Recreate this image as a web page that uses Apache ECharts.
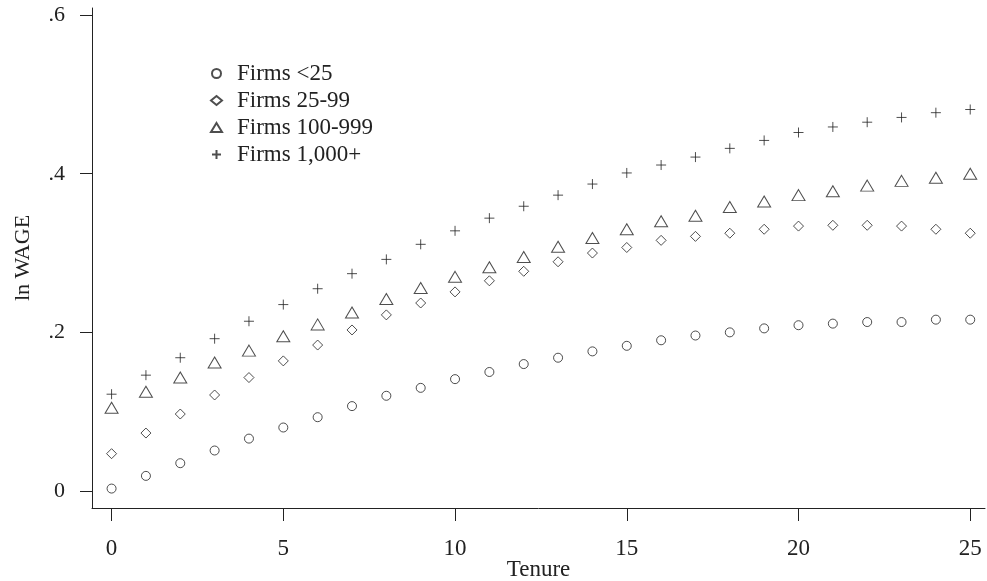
<!DOCTYPE html>
<html>
<head>
<meta charset="utf-8">
<script src="https://cdn.jsdelivr.net/npm/echarts@6/dist/echarts.min.js"></script>
<style>
html,body{margin:0;padding:0;background:#fff;overflow:hidden;}
#chart{width:987px;height:581px;}
</style>
</head>
<body>
<div id="chart"></div>
<script>
const tenure = [0,1,2,3,4,5,6,7,8,9,10,11,12,13,14,15,16,17,18,19,20,21,22,23,24,25];
const firmsLt25 = [0.003,0.019,0.035,0.051,0.066,0.080,0.093,0.107,0.120,0.130,0.141,0.150,0.160,0.168,0.176,0.183,0.190,0.196,0.200,0.205,0.209,0.211,0.213,0.213,0.216,0.216];
const firms25to99 = [0.047,0.073,0.097,0.121,0.143,0.164,0.184,0.203,0.222,0.237,0.251,0.265,0.277,0.289,0.300,0.307,0.316,0.321,0.325,0.330,0.334,0.335,0.335,0.334,0.330,0.325];
const firms100to999 = [0.105,0.125,0.143,0.162,0.177,0.195,0.210,0.225,0.242,0.256,0.270,0.282,0.295,0.308,0.319,0.330,0.340,0.347,0.358,0.365,0.373,0.378,0.385,0.391,0.395,0.400];
const firms1000plus = [0.122,0.146,0.168,0.192,0.214,0.235,0.255,0.274,0.292,0.311,0.328,0.344,0.359,0.373,0.387,0.401,0.411,0.421,0.432,0.442,0.452,0.459,0.465,0.471,0.477,0.481];
const seriesNames = ['Firms <25','Firms 25-99','Firms 100-999','Firms 1,000+'];
const xTicks = [0,5,10,15,20,25];
const yTicks = [0,0.2,0.4,0.6];

const ink = '#222';
const plusPath = 'path://M0,5L10,5M5,0L5,10';

function pairs(ys){ return tenure.map((t,i)=>[t,ys[i]]); }

const chart = echarts.init(document.getElementById('chart'), null, {renderer:'canvas'});
const font = '"Liberation Serif","Times New Roman",serif';

function mk(name, data, symbol, size){
  return {
    name, type:'scatter', data: pairs(data), symbol, symbolSize:size, symbolKeepAspect:true,
    itemStyle:{color:'rgba(0,0,0,0)', borderColor:ink, borderWidth:1},
    emphasis:{disabled:true}, silent:true, animation:false
  };
}

chart.setOption({
  animation:false,
  backgroundColor:'#fff',
  textStyle:{fontFamily:font, color:ink},
  grid:{left:92, right:2, top:8, bottom:73, containLabel:false, outerBoundsMode:'none'},
  legend:{
    orient:'vertical', left:205, top:57, itemWidth:11, itemHeight:9, itemGap:4,
    textStyle:{fontFamily:font, fontSize:23, color:ink, padding:[0,0,0,10]},
    selectedMode:false,
    data: seriesNames
  },
  xAxis:{
    type:'value', min:-0.57, max:25.43,
    name:'Tenure', nameLocation:'middle', nameGap:50, nameMoveOverlap:false,
    nameTextStyle:{fontFamily:font, fontSize:23, color:ink},
    axisLine:{show:true, onZero:false, lineStyle:{color:ink, width:1}},
    axisTick:{show:true, length:13, customValues:xTicks, lineStyle:{color:ink}},
    axisLabel:{fontFamily:font, fontSize:23, color:ink, margin:29, customValues:xTicks},
    splitLine:{show:false}
  },
  yAxis:{
    type:'value', min:-0.0215, max:0.609,
    name:'ln WAGE', nameLocation:'middle', nameGap:58, nameRotate:90, nameMoveOverlap:false,
    nameTextStyle:{fontFamily:font, fontSize:22, color:ink},
    axisLine:{show:true, onZero:false, lineStyle:{color:ink, width:1}},
    axisTick:{show:true, length:12, customValues:yTicks, lineStyle:{color:ink}},
    axisLabel:{fontFamily:font, fontSize:22, color:ink, margin:27, customValues:yTicks,
      formatter:function(v){ if (Math.abs(v) < 1e-9) return '0'; return ('' + Math.round(v*10)/10).replace(/^0/, ''); }},
    splitLine:{show:false}
  },
  series:[
    mk(seriesNames[0], firmsLt25, 'circle', 9),
    mk(seriesNames[1], firms25to99, 'diamond', 10),
    mk(seriesNames[2], firms100to999, 'triangle', [13,11]),
    mk(seriesNames[3], firms1000plus, plusPath, 10)
  ]
});
</script>
</body>
</html>
